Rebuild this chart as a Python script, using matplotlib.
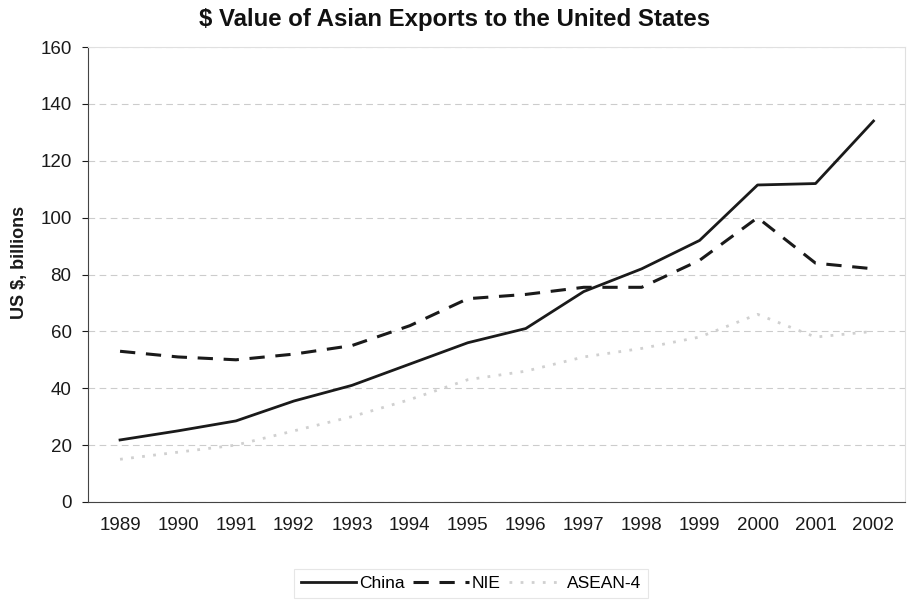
import matplotlib
matplotlib.use("Agg")
import matplotlib.pyplot as plt

years = ["1989", "1990", "1991", "1992", "1993", "1994", "1995", "1996", "1997", "1998", "1999", "2000", "2001", "2002"]
china = [21.8, 25, 28.5, 35.5, 41, 48.5, 56, 61, 74, 82, 92, 111.5, 112, 134]
nie = [53, 51, 50, 52, 55, 62, 71.5, 73, 75.5, 75.5, 85, 100, 84, 82]
asean = [15, 17.5, 20, 25, 30, 36, 43, 46, 51, 54, 58, 66, 58, 60]

plt.rcParams['font.family'] = ['Liberation Sans', 'DejaVu Sans']

fig = plt.figure(figsize=(9.09, 6.04), dpi=100)
ax = fig.add_axes([0.097, 0.169, 0.899, 0.753])

x = list(range(len(years)))
ax.plot(x, china, color='#1a1a1a', lw=2.0, label='China')
ax.plot(x, nie, color='#1a1a1a', lw=2.2, ls=(0, (5, 3.5)), label='NIE')
ax.plot(x, asean, color='#d0d0d0', lw=2.0, ls=(0, (1, 3)), label='ASEAN-4')

ax.set_xlim(-0.55, len(years) - 0.45)
ax.set_ylim(0, 160)
ax.set_yticks(range(0, 161, 20))
ax.set_xticks(x)
ax.set_xticklabels(years)
ax.tick_params(axis='both', labelsize=13.5, colors='#1a1a1a', length=4)
ax.tick_params(axis='y', pad=8)
ax.tick_params(axis='x', length=0, pad=11)
ax.grid(axis='y', color='#cccccc', lw=0.8, ls=(0, (6, 4)))
ax.set_axisbelow(True)
for s in ['top', 'right']:
    ax.spines[s].set_color('#e0e0e0')
for s in ['left', 'bottom']:
    ax.spines[s].set_color('#444444')

ax.set_ylabel('US $, billions', fontsize=13, fontweight='bold', color='#1a1a1a')
ax.yaxis.set_label_coords(-0.074, 0.527)
fig.suptitle('$ Value of Asian Exports to the United States', x=0.5, y=0.968, va='center',
             fontsize=17.3, fontweight='bold', color='#111111')

leg = fig.legend(loc='center', bbox_to_anchor=(0.518, 0.034), ncol=3, frameon=True,
                 fontsize=12.5, handlelength=3.2, columnspacing=0.5, handletextpad=0.15,
                 borderpad=0.3)
leg.get_frame().set_edgecolor('#e0e0e0')
leg.get_frame().set_linewidth(0.8)
leg.get_frame().set_boxstyle('square', pad=0.1)

fig.savefig('out.png', dpi=100)
